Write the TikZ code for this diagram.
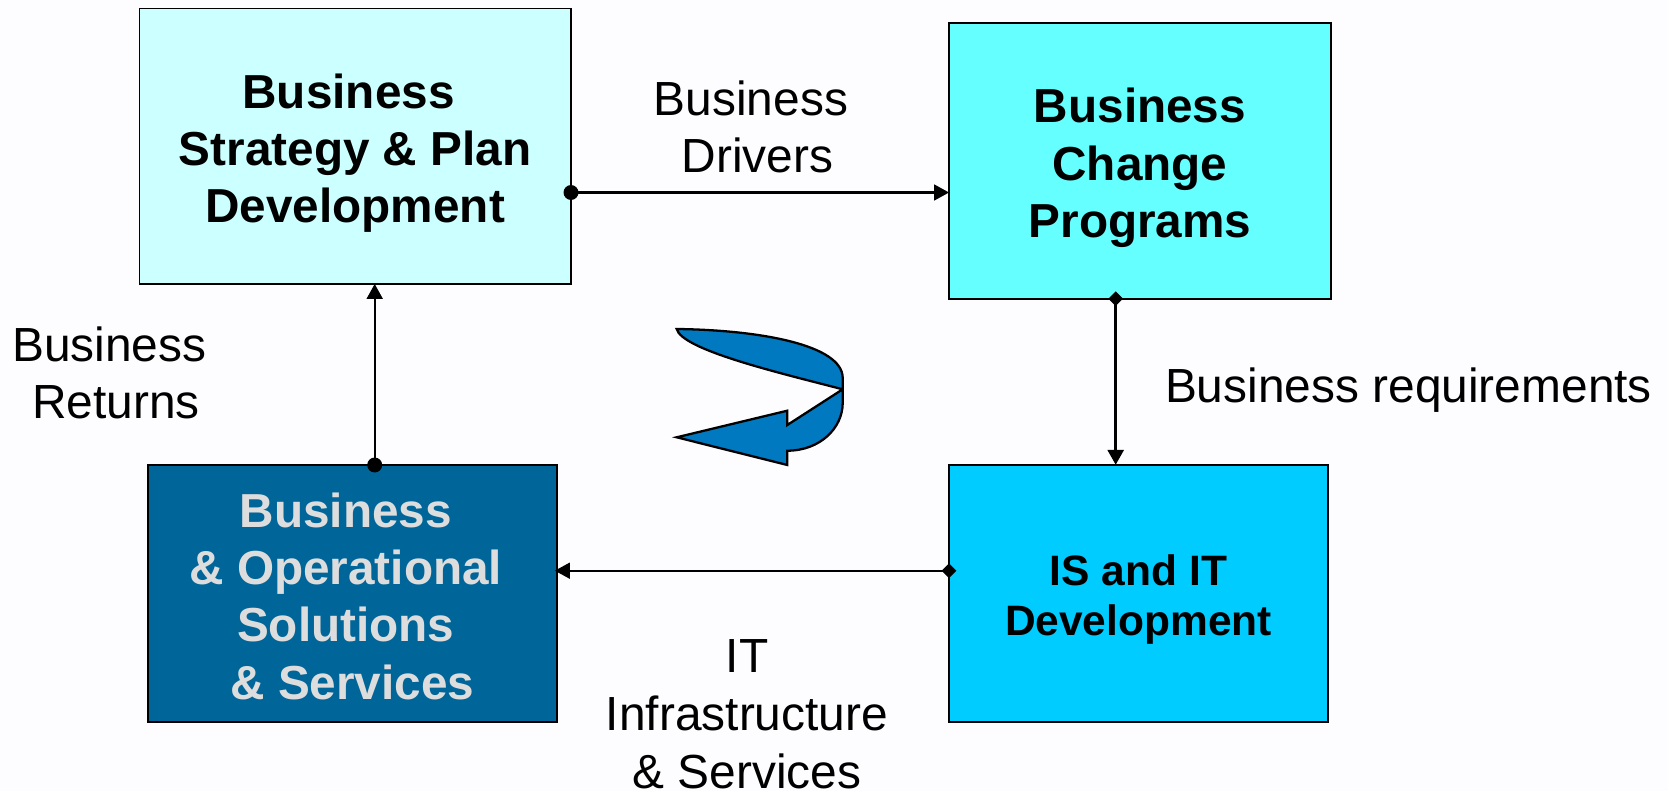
\documentclass[tikz,border=0pt]{standalone}
\usepackage{fontspec}
\setmainfont{Liberation Sans}
\usetikzlibrary{arrows.meta,shapes.geometric}
\definecolor{pagebg}{HTML}{FDFDFF}
\definecolor{strategyfill}{HTML}{CCFFFF}
\definecolor{changefill}{HTML}{66FFFF}
\definecolor{devfill}{HTML}{00CCFF}
\definecolor{solfill}{HTML}{006699}
\definecolor{solink}{HTML}{DDDDDD}
\definecolor{turnfill}{HTML}{0079C1}
\newcommand{\tsp}{\ \null}
\newcommand{\lsp}{\null\ }
\tikzset{
	blockbox/.style = {draw, line width=1.1pt, inner sep=0pt, outer sep=0pt, align=center, font=\bfseries\fontsize{27.15}{32.6}\selectfont},
	flowlabel/.style = {inner sep=0pt, align=center, font=\fontsize{27.25}{32.2}\selectfont},
	flow/.style = {draw, line width=1.2pt, -{Triangle[length=8.5pt,width=9pt]}},
	flowdot/.style = {circle, fill=black, inner sep=0pt, minimum size=8.5pt},
	flowdiamond/.style = {diamond, fill=black, inner sep=0pt, minimum size=8.5pt},
}
\begin{document}
\begin{tikzpicture}[x = 0.02cm, y = -0.02cm,
]
\fill [pagebg] (0,0) rectangle (1668,791);
\useasboundingbox (0,0) rectangle (1668,791);

\node [blockbox, fill=strategyfill, minimum width=8.63cm, minimum height=5.51cm] (strategy) at (355.2,146.2) {\rule{0pt}{27.5pt}Business\tsp\\Strategy \& Plan\\Development};
\node [blockbox, fill=changefill, minimum width=7.64cm, minimum height=5.51cm] (change) at (1140,160.9) {\rule{0pt}{27.5pt}Business\\Change\\Programs};
\node [blockbox, fill=devfill, minimum width=7.58cm, minimum height=5.14cm, font=\bfseries\fontsize{24.2}{28.3}\selectfont] (dev) at (1138.5,593.3) {\rule{0pt}{24.5pt}IS and IT\\Development};
\node [blockbox, fill=solfill, text=solink, minimum width=8.17cm, minimum height=5.14cm] (solutions) at (352.4,593.3) {\rule{0pt}{23pt}Business\tsp\\\& Operational\tsp\\Solutions\tsp\\\& Services};

\node [flowdot] (driversdot) at (571,192.5) {};
\node [flowdiamond] (reqdiamond) at (1115.7,298.7) {};
\node [flowdiamond] (infradiamond) at (949,570.7) {};
\node [flowdot] (returnsdot) at (374.7,465) {};

\draw [flow] (driversdot.center) -- (driversdot.center -| change.west);
\draw [flow, line width=1.8pt] (reqdiamond.center) -- (reqdiamond.center |- dev.north);
\draw [flow, shorten >=-1pt] (infradiamond.center) -- (infradiamond.center -| solutions.east);
\draw [flow, line width=1.3pt] (returnsdot.center) -- (returnsdot.center |- strategy.south);

\node [flowlabel] (driverslabel) at (751,127) {Business\\\lsp Drivers};
\node [flowlabel] (reqlabel) at (1408.5,390) {Business requirements};
\node [flowlabel, font=\fontsize{27.25}{33}\selectfont] (infralabel) at (747,714.5) {IT\\Infrastructure\\\& Services};
\node [flowlabel] (returnslabel) at (116,373) {Business\tsp\\Returns};

\draw [fill=turnfill, line width=1.3pt, line join=miter] (676.7,329)
	.. controls (760,330) and (842.7,345) .. (842.7,378)
	-- (842.7,389.3) -- (787.3,425) -- (787.3,410.7) -- (676.7,437.3) -- (787.3,465) -- (787.3,450.7)
	.. controls (820,450.7) and (842.7,428) .. (842.7,403)
	-- (842.7,389.3)
	.. controls (780,373) and (682,350) .. (676.7,329) -- cycle;

\end{tikzpicture}
\end{document}
